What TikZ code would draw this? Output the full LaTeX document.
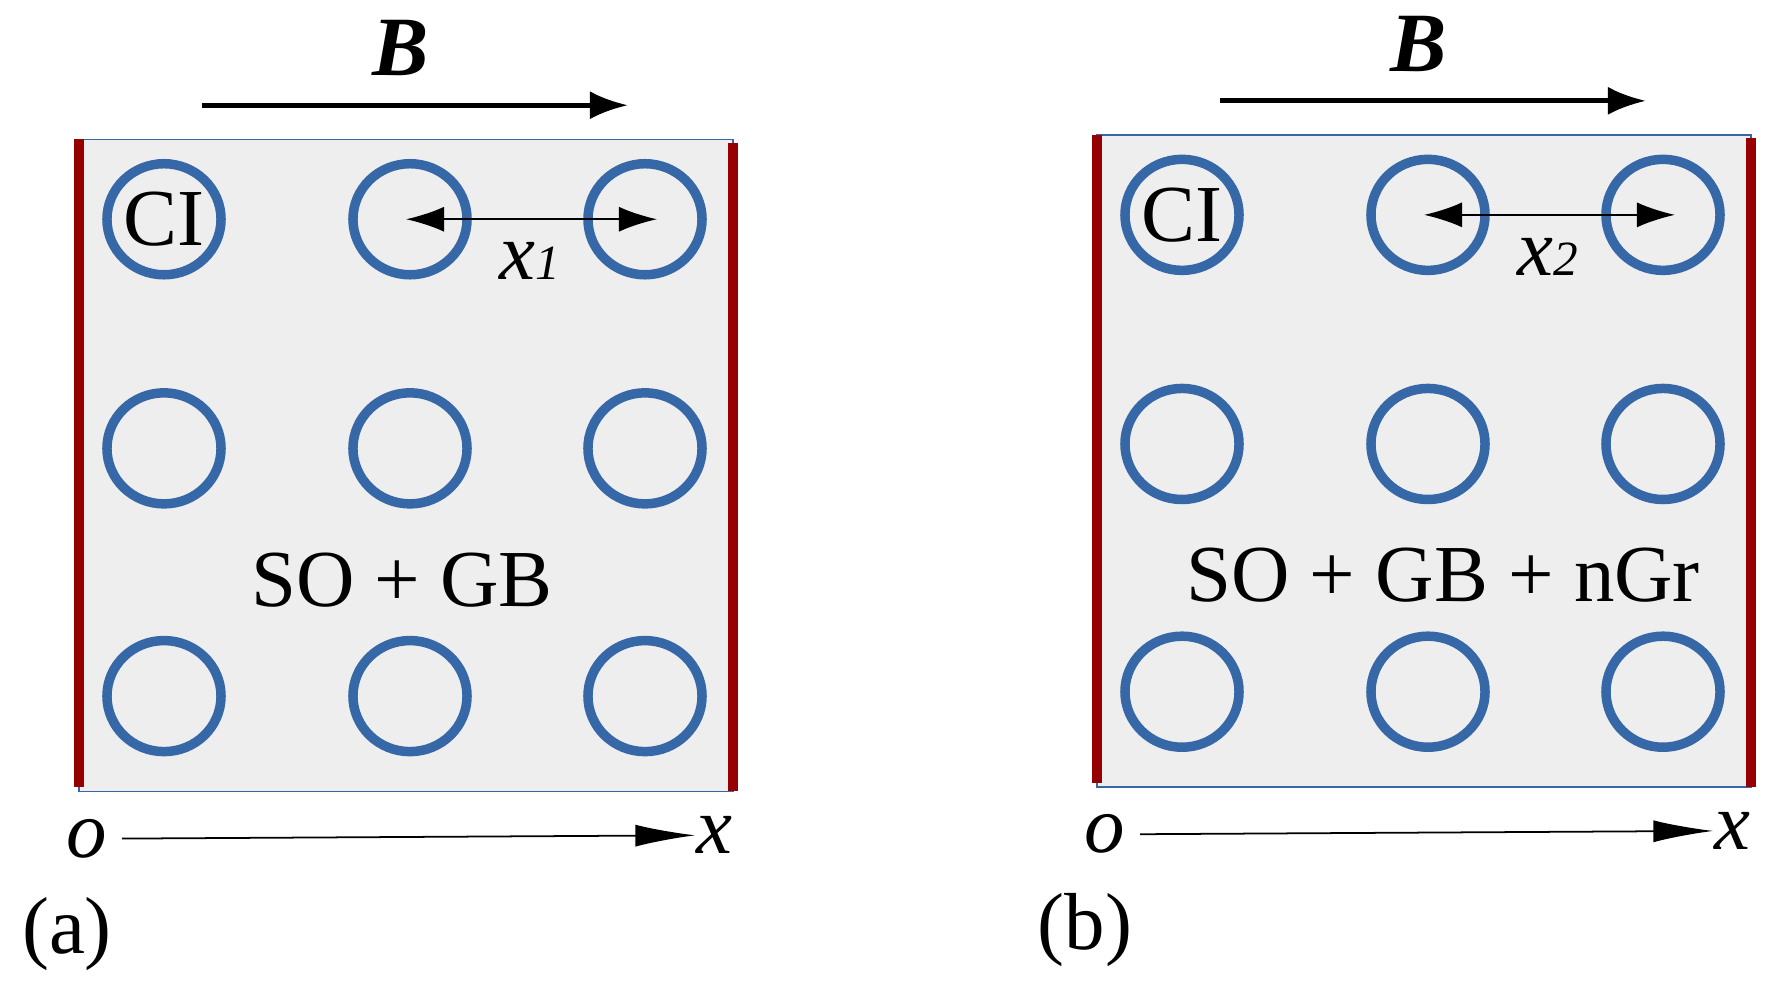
\documentclass[tikz,border=0pt]{standalone}
\usepackage{fontspec}
\setmainfont{Liberation Serif}
\usetikzlibrary{arrows.meta,shapes.geometric}
\definecolor{bar}{RGB}{150,0,0}
\definecolor{ring}{RGB}{54,104,168}
\definecolor{box}{RGB}{238,238,238}
\begin{document}
\begin{tikzpicture}[x=0.01cm,y=-0.01096cm,
  txt/.style={font=\fontsize{23pt}{23pt}\selectfont,inner sep=0pt},
  ci/.style={draw=ring,line width=2.7pt,ellipse,minimum width=1.14cm,minimum height=1.11cm,inner sep=0pt},
  wall/.style={bar,line width=3pt}]
  \useasboundingbox (0,0) rectangle (1787,899);
  \foreach \p/\dx/\dy/\lab/\sub/\mix/\mx in {a/0/0/{(a)}/1/{SO + GB}/402,b/1018/-4/{(b)}/2/{SO + GB + nGr}/425}{
  \begin{scope}[shift={(\dx,\dy)}]
    %cuadro
    \filldraw[fill=box,draw=ring,line width=0.4pt] (79,127) rectangle (733,722);
    \draw[wall] (79,127) -- (79,718);
    \draw[wall] (733,130) -- (733,722);
    %circulos
    \foreach \i/\cx in {1/164,2/410,3/645}
      \foreach \j/\cy in {1/200,2/409,3/635}
        \node[ci] (c\p\i\j) at (\cx,\cy) {};
    \node[txt] at (c\p11) {CI};
    \node[txt] (m\p) at (\mx,529) {\mix};
    %campo B
    \coordinate (b1\p) at (202,96);
    \coordinate (b2\p) at (628,96);
    \draw[line width=1.4pt,-{Latex[length=0.38cm,width=0.28cm]}] (b1\p) -- (b2\p);
    \node[txt,font=\fontsize{24pt}{24pt}\selectfont\bfseries\itshape] at (401,44) {B};
    %distancia
    \coordinate (d1\p) at (406,200);
    \coordinate (d2\p) at (657,200);
    \draw[line width=0.6pt,{Latex[length=0.38cm,width=0.25cm]}-{Latex[length=0.38cm,width=0.25cm]}] (d1\p) -- (d2\p);
    \node[txt] at (530,238) {\textit{x}\fontsize{14pt}{14pt}\selectfont\textit{\sub}};
    %eje
    \node[txt] (o\p) at (87,765) {\textit{o}};
    \node[txt] (x\p) at (714,762) {\textit{x}};
    \draw[line width=0.5pt,-{Latex[length=0.6cm,width=0.22cm]}] (122,765) -- (x\p.west);
    \node[txt] at (67,852) {\lab};
  \end{scope}}
\end{tikzpicture}
\end{document}
